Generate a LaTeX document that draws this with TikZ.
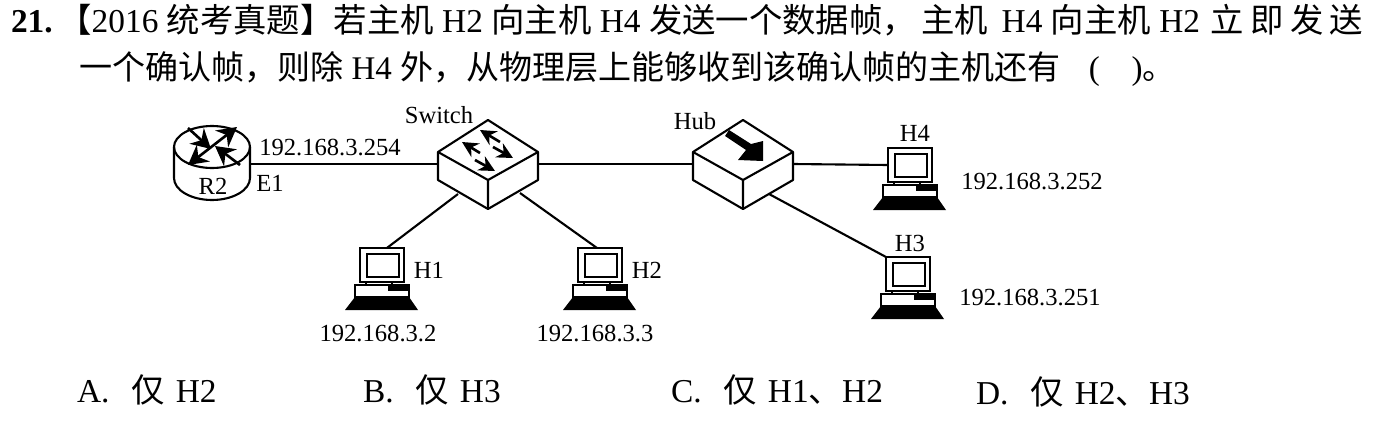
\documentclass[tikz,border=0pt]{standalone}
\usepackage{fontspec}
\setmainfont{Liberation Serif}
\newfontfamily\cjk{Noto Sans CJK SC}
\usetikzlibrary{arrows.meta}
\newcommand{\zh}[1]{{\cjk #1}}

\tikzset{
  pics/netbox/.style={code={
    \draw[line width=1.2pt, fill=white, line join=round]
      (0,-44) -- (50,-12) -- (50,16) -- (0,45) -- (-50,16) -- (-50,-12) -- cycle;
    \draw[line width=1.2pt] (-50,-12) -- (0,16) -- (50,-12) (0,16) -- (0,45);
  }},
  pics/swarrows/.style={code={
    \draw[line width=1.5pt, -{Stealth[length=9pt,width=9pt]}] (12,-22) -- (-8,-34);
    \draw[line width=1.5pt, -{Stealth[length=9pt,width=9pt]}] (5,-17) -- (25,-6);
    \draw[line width=1.5pt, -{Stealth[length=9pt,width=9pt]}] (-8,-11) -- (-26,-22);
    \draw[line width=1.5pt, -{Stealth[length=9pt,width=9pt]}] (-13,-4) -- (7,7);
  }},
  pics/hubarrow/.style={code={
    \fill (-18,-28) -- (-14,-34) -- (8,-20) -- (20,-23) -- (20,-3) -- (-5,-4) -- (3,-14) -- cycle;
  }},
  pics/routerdev/.style={code={
    \draw[line width=1.2pt, fill=white] (-38,-17) -- (-38,14) arc[start angle=180, end angle=360, x radius=38, y radius=-22]
      -- (38,-17) arc[start angle=0, end angle=180, x radius=38, y radius=-21] -- cycle;
    \draw[line width=1.2pt] (-38,-17) arc[start angle=180, end angle=360, x radius=38, y radius=-21];
    \draw[line width=1.5pt, {Stealth[length=11pt,width=12pt]}-{Stealth[length=11pt,width=12pt]}] (-24,1) -- (25,-37);
    \draw[line width=1.5pt, -{Stealth[length=11pt,width=12pt]}] (-24,-36) -- (-1,-15);
    \draw[line width=1.5pt, -{Stealth[length=11pt,width=12pt]}] (28,1) -- (3,-18);
  }},
  pics/hostpc/.style={code={
    \draw[line width=1.2pt, fill=white] (-22,-17) rectangle (22,17);
    \draw[line width=1.2pt] (-15,-11) rectangle (17,12);
    \draw[line width=1.2pt] (-16,17) rectangle (10,20);
    \draw[line width=1.2pt, fill=white] (-27,20) rectangle (27,32);
    \fill (6,20) rectangle (27,26);
    \fill (-27,32) -- (27,32) -- (36,45) -- (-37,45) -- cycle;
  }}
}

\begin{document}
\begin{tikzpicture}[x=0.02cm, y=-0.02cm, line width=1.2pt,
    netnode/.style={rectangle, inner sep=0pt, outer sep=0pt, minimum width=2cm, minimum height=1.76cm},
    rtnode/.style={rectangle, inner sep=0pt, outer sep=0pt, minimum width=1.54cm, minimum height=1.5cm},
    pcnode/.style={rectangle, inner sep=0pt, outer sep=0pt, minimum width=0.88cm, minimum height=0.68cm},
    lab/.style={inner sep=0pt, font=\fontsize{14}{16}\selectfont},
    txt/.style={inner sep=0pt, anchor=base west, font=\fontsize{19}{20}\selectfont}]
  \useasboundingbox (0,0) rectangle (1377,423);
  % question
  \node[txt] (line1) at (10,32) {\textbf{21.}\,\zh{【}2016 \zh{统考真题】若主机} H2 \zh{向主机} H4 \zh{发送一个数据帧，}\kern3pt\zh{主机}\kern3pt\ H4 \zh{向主机} H2 \kern1pt\zh{立\kern3.7pt 即\kern3.7pt 发\kern3.7pt 送}};
  \node[txt, font=\fontsize{18.8}{20}\selectfont] (line2) at (78,79) {\zh{一个确认帧，则除} H4 \zh{外，从物理层上能够收到该确认帧的主机还有}\kern16pt(\kern18pt)\zh{。}};
  % devices
  \node[rtnode] (r2) at (212,164) {};
  \node[netnode] (sw) at (488,164) {};
  \node[netnode] (hub) at (743,164) {};
  \node[pcnode] (h1) at (382,265) {};
  \node[pcnode] (h2) at (600,265) {};
  \node[pcnode] (h4) at (910,165) {};
  \node[pcnode] (h3) at (908,274) {};
  \coordinate (swsw) at (458,194);
  \coordinate (swse) at (520,193);
  \coordinate (hubse) at (769,194);
  % links
  \draw (r2.east) -- (sw.west);
  \draw (sw.east) -- (hub.west);
  \draw (hub.east) -- (h4.west);
  \draw (swsw) -- (h1.74);
  \draw (swse) -- (h2.100);
  \draw (hubse) -- (h3.north west);
  % icons
  \pic at (r2) {routerdev};
  \pic at (sw) {netbox};
  \pic at (sw) {swarrows};
  \pic at (hub) {netbox};
  \pic at (hub) {hubarrow};
  \pic at (h1) {hostpc};
  \pic at (h2) {hostpc};
  \pic at (h4) {hostpc};
  \pic at (h3) {hostpc};
  % labels
  \node[lab] (r2lab) at (213,186) {R2};
  \node[lab] (e1lab) at (270,183) {E1};
  \node[lab] (r2ip) at (330,147) {192.168.3.254};
  \node[lab] (swlab) at (439,115) {Switch};
  \node[lab] (hublab) at (695,121) {Hub};
  \node[lab] (h1lab) at (429,270) {H1};
  \node[lab] (h2lab) at (647,270) {H2};
  \node[lab] (h4lab) at (915,133) {H4};
  \node[lab] (h3lab) at (910,243) {H3};
  \node[lab] (h1ip) at (378,333) {192.168.3.2};
  \node[lab] (h2ip) at (595,333) {192.168.3.3};
  \node[lab] (h4ip) at (1032,181) {192.168.3.252};
  \node[lab] (h3ip) at (1030,297) {192.168.3.251};
  % choices
  \node[txt] (opta) at (76,402) {A.\ \ \kern3pt\zh{仅}\kern1.5pt\ H2};
  \node[txt] (optb) at (362,402) {B.\ \ \kern3pt\zh{仅}\kern1.5pt\ H3};
  \node[txt] (optc) at (670,402) {C.\ \ \kern3pt\zh{仅}\kern1.5pt\ H1\zh{、}H2};
  \node[txt] (optd) at (975,404) {D.\ \ \kern3pt\zh{仅}\kern1.5pt\ H2\zh{、}H3};
\end{tikzpicture}
\end{document}
